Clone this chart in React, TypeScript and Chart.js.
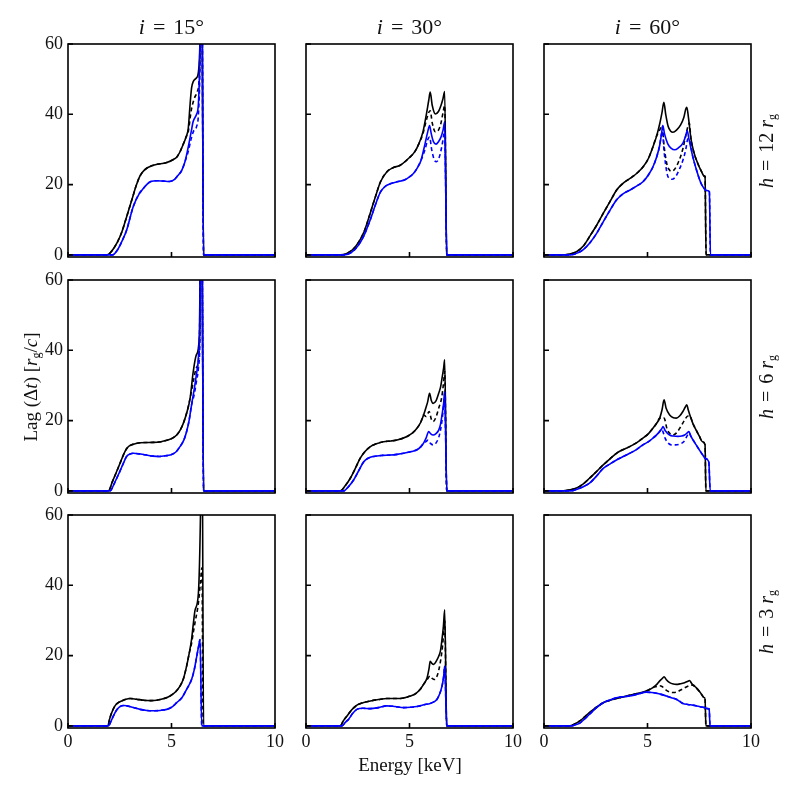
import React, { useEffect, useRef } from "react";
import { Chart, registerables } from "chart.js";

Chart.register(...registerables);

type Pt = [number, number];

// ---- axis ticks / labels ----
const xTicks = [0, 5, 10];
const yTicks = [0, 20, 40, 60];
const inclinations = ["15", "30", "60"];
const heights = ["12", "6", "3"];

// ---- i = 15°, h = 12 rg ----
const i15h12Rise: Pt[] = [[0,0],[1.9,0],[2.1,1],[2.4,3.8],[2.6,6.5],[2.83,10.8],[3.1,16],[3.3,19.8],[3.48,22.5],[3.7,24.2],[4.12,25.5],[4.77,26.3],[5.05,27],[5.25,27.8],[5.4,29.2],[5.57,31.5],[5.7,33.5]];
const i15h12BlackSolid: Pt[] = [...i15h12Rise,[5.81,36],[5.9,43],[5.97,47.5],[6.05,49.3],[6.18,50.2],[6.3,52],[6.38,62],[6.45,95],[6.55,0],[10,0]];
const i15h12BlackDashed: Pt[] = [...i15h12Rise,[5.81,35],[5.95,41],[6.1,44.5],[6.25,46.5],[6.35,52],[6.45,95],[6.55,0],[10,0]];
const i15h12BlueRise: Pt[] = [[0,0],[2.15,0],[2.4,1.5],[2.6,3.8],[2.83,7],[3.15,13.7],[3.45,17.5],[3.6,18.6],[3.8,20],[4.0,20.9],[4.3,21.1],[4.6,21],[4.9,20.9],[5.15,21.5],[5.3,22.5],[5.49,24],[5.65,26.5]];
const i15h12BlueSolid: Pt[] = [...i15h12BlueRise,[5.81,30.7],[5.95,35],[6.05,38],[6.21,40],[6.3,43],[6.38,60],[6.45,95],[6.55,0],[10,0]];
const i15h12BlueDashed: Pt[] = [...i15h12BlueRise,[5.81,29.5],[5.95,33],[6.05,35],[6.21,36.5],[6.3,40],[6.38,55],[6.45,95],[6.55,0],[10,0]];

// ---- i = 30°, h = 12 rg ----
const i30h12Rise: Pt[] = [[0,0],[1.65,0],[2.0,0.5],[2.4,2.4],[2.8,6.5],[3.1,11.8],[3.35,16.5],[3.6,20.8],[3.9,23.6],[4.2,24.8],[4.55,25.5],[5.0,27.7],[5.25,29.3],[5.45,31.6]];
const i30h12BlackSolid: Pt[] = [...i30h12Rise,[5.65,35],[5.8,39.5],[5.93,44],[6.0,46.3],[6.1,42.5],[6.25,40.1],[6.4,40.8],[6.52,42.5],[6.62,44.5],[6.7,46.5],[6.8,0],[10,0]];
const i30h12BlackDashed: Pt[] = [...i30h12Rise,[5.65,34.5],[5.8,38],[5.93,40.5],[6.0,41],[6.1,37.5],[6.25,35],[6.4,35.5],[6.52,37.5],[6.62,40.5],[6.7,42.5],[6.8,0],[10,0]];
const i30h12BlueRise: Pt[] = [[0,0],[1.85,0],[2.2,0.7],[2.5,2.5],[2.8,5.5],[3.1,9.9],[3.35,14.2],[3.6,17.9],[3.85,19.6],[4.1,20.3],[4.4,20.8],[4.75,21.3],[5.0,22.2],[5.2,23.2],[5.4,25],[5.55,26.8]];
const i30h12BlueSolid: Pt[] = [...i30h12BlueRise,[5.75,31.6],[5.88,35],[5.97,36.8],[6.05,34.5],[6.15,32.3],[6.28,31.5],[6.4,32.2],[6.52,33.5],[6.62,35.5],[6.7,37.8],[6.8,0],[10,0]];
const i30h12BlueDashed: Pt[] = [...i30h12BlueRise,[5.75,30],[5.88,32.8],[5.97,33.5],[6.07,30],[6.2,27],[6.3,26.5],[6.42,27.5],[6.55,30.5],[6.65,34],[6.7,36],[6.8,0],[10,0]];

// ---- i = 60°, h = 12 rg ----
const i60h12Rise: Pt[] = [[0,0],[0.9,0],[1.2,0.2],[1.57,0.9],[1.9,2.5],[2.2,5.2],[2.55,8.5],[2.86,11.8],[3.2,15.3],[3.5,18.4],[3.8,20.3],[4.14,21.7],[4.5,23.3],[4.78,25],[5.05,27.5],[5.26,30.7],[5.45,34]];
const i60h12BlackSolid: Pt[] = [...i60h12Rise,[5.59,37.3],[5.7,40.5],[5.79,43.4],[5.88,40],[6.0,36.5],[6.12,35.2],[6.23,34.9],[6.4,35.5],[6.6,37],[6.75,39],[6.85,41.5],[6.9,42],[6.97,39.5],[7.1,33],[7.25,29],[7.43,26],[7.6,23.8],[7.75,22.4],[7.78,22.3],[7.83,0],[10,0]];
const i60h12BlackDashed: Pt[] = [...i60h12Rise,[5.55,35],[5.65,36.3],[5.71,36.8],[5.8,31],[5.95,25.5],[6.07,24.1],[6.15,23.8],[6.3,24.3],[6.5,26.5],[6.71,30.2],[6.85,34],[6.95,36.5],[7.02,37.5],[7.1,33],[7.25,29],[7.43,26],[7.6,23.8],[7.75,22.4],[7.78,22.3],[7.83,0],[10,0]];
const i60h12BlueRise: Pt[] = [[0,0],[1.3,0],[1.6,0.5],[1.9,1.5],[2.2,3.3],[2.55,6.2],[2.86,9.4],[3.2,12.8],[3.5,15.6],[3.8,17.3],[4.14,18.4],[4.45,19.5],[4.78,20.8],[5.05,22.8],[5.26,25],[5.45,28],[5.59,31.2]];
const i60h12BlueSolid: Pt[] = [...i60h12BlueRise,[5.68,34.5],[5.74,36.8],[5.82,34.5],[5.98,31.6],[6.15,30.3],[6.31,29.9],[6.5,30.5],[6.71,31.8],[6.85,34],[6.92,35.4],[7.0,33],[7.19,27.9],[7.4,23.5],[7.59,20.3],[7.75,18.8],[7.85,18.3],[7.99,18],[8.04,0],[10,0]];
const i60h12BlueDashed: Pt[] = [...i60h12BlueRise,[5.66,34],[5.72,35.2],[5.8,29.5],[5.95,23],[6.07,21.7],[6.18,21.5],[6.35,22.2],[6.55,24.5],[6.71,26.9],[6.85,30],[6.95,33],[7.0,33],[7.19,27.9],[7.4,23.5],[7.59,20.3],[7.75,18.8],[7.85,18.3],[7.99,18],[8.04,0],[10,0]];

// ---- i = 15°, h = 6 rg ----
const i15h6Rise: Pt[] = [[0,0],[1.95,0],[2.15,2.7],[2.35,5.5],[2.55,8.4],[2.75,11.2],[2.9,12.5],[3.08,13.1],[3.48,13.7],[4.12,13.8],[4.5,14],[4.77,14.4],[5.05,15],[5.25,15.9],[5.42,17.3],[5.57,19.2],[5.75,22.5],[5.9,26.4]];
const i15h6BlackSolid: Pt[] = [...i15h6Rise,[6.05,33.9],[6.2,38.7],[6.34,43.4],[6.45,95],[6.55,0],[10,0]];
const i15h6BlackDashed: Pt[] = [...i15h6Rise,[6.05,31],[6.2,35],[6.34,40],[6.45,95],[6.55,0],[10,0]];
const i15h6BlueRise: Pt[] = [[0,0],[2.03,0],[2.25,2.3],[2.5,5.5],[2.7,8.2],[2.83,9.8],[3.0,10.5],[3.16,10.7],[3.5,10.5],[3.8,10.2],[4.1,9.9],[4.44,9.8],[4.7,10],[4.93,10.2],[5.2,11],[5.41,12.6],[5.6,14.5],[5.73,16.9],[5.85,20],[5.97,24.5]];
const i15h6BlueSolid: Pt[] = [...i15h6BlueRise,[6.1,29],[6.2,33],[6.3,38],[6.38,50],[6.45,95],[6.55,0],[10,0]];
const i15h6BlueDashed: Pt[] = [...i15h6BlueRise,[6.1,27.5],[6.2,31],[6.3,35],[6.38,45],[6.45,95],[6.55,0],[10,0]];

// ---- i = 30°, h = 6 rg ----
const i30h6Rise: Pt[] = [[0,0],[1.66,0],[1.9,1.5],[2.14,3.6],[2.4,6.6],[2.62,9.3],[2.85,11.2],[3.11,12.6],[3.4,13.4],[3.75,14],[4.1,14.2],[4.4,14.5],[4.88,15.5],[5.15,16.5],[5.36,17.8],[5.55,19.6],[5.68,21.6]];
const i30h6BlackSolid: Pt[] = [...i30h6Rise,[5.8,23.8],[5.88,25.4],[5.97,27.8],[6.05,25.8],[6.14,24.9],[6.28,25.6],[6.41,27.8],[6.5,29.5],[6.57,32],[6.65,35],[6.7,37.3],[6.8,0],[10,0]];
const i30h6BlackDashed: Pt[] = [...i30h6Rise,[5.8,21.2],[5.88,22],[5.95,22.6],[6.05,20.5],[6.14,19.7],[6.28,21],[6.41,23.5],[6.55,26.4],[6.65,31],[6.7,34],[6.8,0],[10,0]];
const i30h6BlueRise: Pt[] = [[0,0],[1.82,0],[2.05,1.2],[2.3,3.1],[2.55,5.8],[2.79,8.3],[3.0,9.3],[3.27,9.8],[3.7,10.1],[4.07,10.2],[4.4,10.4],[4.72,10.7],[5.1,11.2],[5.36,11.7],[5.55,12.6],[5.68,13.6]];
const i30h6BlueSolid: Pt[] = [...i30h6BlueRise,[5.8,15],[5.93,16.9],[6.03,16.2],[6.14,15.9],[6.28,16.3],[6.41,17.3],[6.5,19],[6.57,21.6],[6.65,25],[6.7,28.2],[6.8,0],[10,0]];
const i30h6BlueDashed: Pt[] = [...i30h6BlueRise,[5.8,14],[5.9,14.5],[6.0,13.6],[6.14,13.1],[6.3,13.8],[6.45,16],[6.57,20],[6.65,24.5],[6.7,28],[6.8,0],[10,0]];

// ---- i = 60°, h = 6 rg ----
const i60h6Rise: Pt[] = [[0,0],[0.93,0],[1.25,0.3],[1.57,0.8],[1.9,2],[2.2,3.6],[2.55,5.6],[2.86,7.4],[3.2,9.2],[3.5,10.7],[3.8,11.7],[4.14,12.6],[4.5,13.8],[4.78,15],[5.05,16.3],[5.26,17.8],[5.45,19.3],[5.59,20.7]];
const i60h6Tail: Pt[] = [[7.19,19.2],[7.35,17.3],[7.51,15.5],[7.65,14],[7.78,13.1],[7.82,0],[10,0]];
const i60h6BlackSolid: Pt[] = [...i60h6Rise,[5.7,23],[5.8,25.9],[5.9,23.5],[6.07,21.6],[6.25,20.8],[6.39,20.7],[6.55,21.3],[6.71,22.6],[6.82,23.8],[6.9,24.5],[6.97,23],...i60h6Tail];
const i60h6BlackDashed: Pt[] = [...i60h6Rise,[5.7,20.5],[5.8,20.7],[5.95,17.5],[6.1,16.2],[6.23,15.9],[6.4,16.5],[6.6,18.2],[6.8,20.2],[6.95,21.3],[7.05,21.3],...i60h6Tail];
const i60h6BlueRise: Pt[] = [[0,0],[1.3,0],[1.6,0.5],[1.9,1.2],[2.2,2.2],[2.55,4.3],[2.86,6.4],[3.2,7.7],[3.5,8.8],[3.8,9.7],[4.14,10.7],[4.5,11.9],[4.78,13.1],[5.05,14],[5.26,15],[5.45,16],[5.59,16.9],[5.68,17.6]];
const i60h6BlueTail: Pt[] = [[7.1,15.5],[7.35,13.1],[7.5,11.7],[7.67,10.2],[7.8,9.2],[7.96,8.3],[8.03,0],[10,0]];
const i60h6BlueSolid: Pt[] = [...i60h6BlueRise,[5.75,18.3],[5.85,17.2],[6.07,15.9],[6.25,15.6],[6.47,15.5],[6.65,15.6],[6.79,15.9],[6.92,16.5],[7.0,16.9],...i60h6BlueTail];
const i60h6BlueDashed: Pt[] = [...i60h6BlueRise,[5.75,16.8],[5.85,15],[6.0,13.6],[6.15,13.1],[6.35,13.1],[6.55,13.3],[6.75,14],[6.9,15.5],[7.0,16.5],...i60h6BlueTail];

// ---- i = 15°, h = 3 rg ----
const i15h3Rise: Pt[] = [[0,0],[1.92,0],[2.03,2.4],[2.15,4.3],[2.27,5.7],[2.43,6.6],[2.59,7.1],[2.8,7.6],[3.0,7.8],[3.3,7.6],[3.64,7.3],[4.0,7.2],[4.28,7.3],[4.6,7.7],[4.93,8.5],[5.2,9.7],[5.41,11.3],[5.58,13.5],[5.73,17],[5.85,20.5]];
const i15h3BlackSolid: Pt[] = [...i15h3Rise,[5.97,24.6],[6.05,28.8],[6.14,33],[6.3,37.8],[6.4,60],[6.47,95],[6.55,0],[10,0]];
const i15h3BlackDashed: Pt[] = [...i15h3Rise,[5.97,23.5],[6.05,26.5],[6.14,29.5],[6.3,35],[6.4,41],[6.47,45],[6.53,0],[10,0]];
const i15h3BlueSolid: Pt[] = [[0,0],[1.95,0],[2.07,1.2],[2.19,2.8],[2.35,4.5],[2.51,5.5],[2.7,5.8],[2.83,5.7],[3.1,5.3],[3.48,4.7],[3.8,4.4],[4.12,4.3],[4.45,4.4],[4.77,4.7],[5.05,5.5],[5.25,6.6],[5.5,8],[5.73,10.4],[5.97,13.2],[6.1,16],[6.22,19.8],[6.32,23],[6.38,24.6],[6.46,0],[10,0]];
const i15h3BlueDashed: Pt[] = [[0,0],[1.95,0],[2.07,1.2],[2.19,2.8],[2.35,4.5],[2.51,5.5],[2.7,5.8],[2.83,5.7],[3.1,5.3],[3.48,4.7],[3.8,4.4],[4.12,4.3],[4.45,4.4],[4.77,4.7],[5.05,5.5],[5.25,6.6],[5.5,8],[5.73,10.4],[5.97,13.2],[6.1,16],[6.22,19.8],[6.32,23],[6.38,24.6],[6.46,0],[10,0]];

// ---- i = 30°, h = 3 rg ----
const i30h3Rise: Pt[] = [[0,0],[1.66,0],[1.8,1.4],[1.98,2.8],[2.2,4.5],[2.46,5.9],[2.75,6.6],[3.11,7.1],[3.5,7.5],[3.91,7.8],[4.56,7.8],[5.04,8.5],[5.3,9.2],[5.52,10.4],[5.7,12]];
const i30h3BlackSolid: Pt[] = [...i30h3Rise,[5.85,13.7],[5.95,16.5],[6.0,18.4],[6.08,17.8],[6.17,17.5],[6.3,18.5],[6.41,19.8],[6.5,21.5],[6.57,24.6],[6.64,28.5],[6.7,33],[6.8,0],[10,0]];
const i30h3BlackDashed: Pt[] = [...i30h3Rise,[5.85,13.2],[6.0,14.2],[6.1,13.5],[6.2,13.2],[6.35,14.5],[6.5,18.5],[6.6,23],[6.67,28],[6.7,30],[6.8,0],[10,0]];
const i30h3BlueSolid: Pt[] = [[0,0],[1.74,0],[1.9,1],[2.06,1.9],[2.25,3.5],[2.46,4.7],[2.75,5],[3.11,4.9],[3.5,5.2],[3.91,5.7],[4.3,5.5],[4.72,5.2],[5.05,5.3],[5.36,5.5],[5.7,6],[6.0,6.4],[6.2,6.9],[6.33,7.6],[6.45,9],[6.57,11.3],[6.65,14],[6.7,17],[6.8,0],[10,0]];
const i30h3BlueDashed: Pt[] = [[0,0],[1.74,0],[1.9,1],[2.06,1.9],[2.25,3.5],[2.46,4.7],[2.75,5],[3.11,4.9],[3.5,5.2],[3.91,5.7],[4.3,5.5],[4.72,5.2],[5.05,5.3],[5.36,5.5],[5.7,6],[6.0,6.4],[6.2,6.9],[6.33,7.6],[6.45,9],[6.57,11.3],[6.65,14],[6.7,17],[6.8,0],[10,0]];

// ---- i = 60°, h = 3 rg ----
const i60h3Rise: Pt[] = [[0,0],[1.25,0],[1.5,0.6],[1.73,1.4],[1.95,2.5],[2.2,3.8],[2.5,5.2],[2.86,6.6],[3.2,7.3],[3.5,7.8],[3.8,8.2],[4.14,8.7],[4.5,9.2],[4.78,9.6],[5.05,10.2],[5.26,10.9]];
const i60h3Tail: Pt[] = [[7.2,11.6],[7.35,10.9],[7.55,9.5],[7.75,8],[7.78,8],[7.82,0],[10,0]];
const i60h3BlackSolid: Pt[] = [...i60h3Rise,[5.45,11.8],[5.59,12.8],[5.7,13.4],[5.8,14],[5.9,13.2],[6.07,12.3],[6.25,11.9],[6.39,11.8],[6.6,12],[6.79,12.3],[6.95,12.7],[7.03,12.9],[7.12,12.2],...i60h3Tail];
const i60h3BlackDashed: Pt[] = [...i60h3Rise,[5.45,11.2],[5.59,11.4],[5.7,11.2],[5.9,10.2],[6.1,9.6],[6.23,9.5],[6.4,9.6],[6.6,10.2],[6.85,11],[7.0,11.4],[7.12,11.6],...i60h3Tail];
const i60h3BlueSolid: Pt[] = [[0,0],[1.33,0],[1.5,0.3],[1.73,0.8],[1.95,1.9],[2.2,3.3],[2.5,5],[2.86,6.6],[3.2,7.4],[3.5,8],[3.8,8.3],[4.14,8.5],[4.5,9],[4.94,9.6],[5.2,9.5],[5.43,9.3],[5.7,8.9],[5.91,8.5],[6.15,8],[6.39,7.6],[6.55,7],[6.71,6.4],[6.95,6.1],[7.19,5.9],[7.5,5.5],[7.75,5.2],[7.91,4.9],[7.98,4.8],[8.02,0],[10,0]];
const i60h3BlueDashed: Pt[] = [[0,0],[1.33,0],[1.5,0.3],[1.73,0.8],[1.95,1.9],[2.2,3.3],[2.5,5],[2.86,6.6],[3.2,7.4],[3.5,8],[3.8,8.3],[4.14,8.5],[4.5,9],[4.94,9.6],[5.2,9.5],[5.43,9.3],[5.7,8.9],[5.91,8.5],[6.15,8],[6.39,7.6],[6.55,7],[6.71,6.4],[6.95,6.1],[7.19,5.9],[7.5,5.5],[7.75,5.2],[7.91,4.9],[7.98,4.8],[8.02,0],[10,0]];

type PanelSeries = { blackSolid: Pt[]; blackDashed: Pt[]; blueSolid: Pt[]; blueDashed: Pt[] };

const grid: PanelSeries[][] = [
  [
    { blackSolid: i15h12BlackSolid, blackDashed: i15h12BlackDashed, blueSolid: i15h12BlueSolid, blueDashed: i15h12BlueDashed },
    { blackSolid: i30h12BlackSolid, blackDashed: i30h12BlackDashed, blueSolid: i30h12BlueSolid, blueDashed: i30h12BlueDashed },
    { blackSolid: i60h12BlackSolid, blackDashed: i60h12BlackDashed, blueSolid: i60h12BlueSolid, blueDashed: i60h12BlueDashed },
  ],
  [
    { blackSolid: i15h6BlackSolid, blackDashed: i15h6BlackDashed, blueSolid: i15h6BlueSolid, blueDashed: i15h6BlueDashed },
    { blackSolid: i30h6BlackSolid, blackDashed: i30h6BlackDashed, blueSolid: i30h6BlueSolid, blueDashed: i30h6BlueDashed },
    { blackSolid: i60h6BlackSolid, blackDashed: i60h6BlackDashed, blueSolid: i60h6BlueSolid, blueDashed: i60h6BlueDashed },
  ],
  [
    { blackSolid: i15h3BlackSolid, blackDashed: i15h3BlackDashed, blueSolid: i15h3BlueSolid, blueDashed: i15h3BlueDashed },
    { blackSolid: i30h3BlackSolid, blackDashed: i30h3BlackDashed, blueSolid: i30h3BlueSolid, blueDashed: i30h3BlueDashed },
    { blackSolid: i60h3BlackSolid, blackDashed: i60h3BlackDashed, blueSolid: i60h3BlueSolid, blueDashed: i60h3BlueDashed },
  ],
];

// ---- layout ----
const COL_LEFT = [68, 306, 544];
const ROW_TOP = [44, 280, 515];
const PW = 207;
const PH = 213;
const PAD_L = 60;
const PAD_T = 12;
const PAD_R = 14;
const PAD_B = 30;
const CW = PAD_L + PW + PAD_R;
const CH = PAD_T + PH + PAD_B;
const SERIF = "'Liberation Serif', 'DejaVu Serif', serif";
const BLUE = "#0000ff";

const framePlugin = {
  id: "frameTicks",
  afterDatasetsDraw(chart: any) {
    const { ctx, chartArea: a, scales } = chart;
    ctx.save();
    ctx.strokeStyle = "#000";
    ctx.lineWidth = 1.6;
    ctx.strokeRect(a.left, a.top, a.right - a.left, a.bottom - a.top);
    ctx.beginPath();
    for (const v of xTicks) {
      const px = scales.x.getPixelForValue(v);
      ctx.moveTo(px, a.bottom);
      ctx.lineTo(px, a.bottom - 5);
    }
    for (const v of yTicks) {
      const py = scales.y.getPixelForValue(v);
      ctx.moveTo(a.left, py);
      ctx.lineTo(a.left + 5, py);
    }
    ctx.stroke();
    ctx.restore();
  },
};

function toXY(pts: Pt[]) {
  return pts.map(([x, y]) => ({ x, y }));
}

function Panel({ s, left, top, showX, showY }: { s: PanelSeries; left: number; top: number; showX: boolean; showY: boolean }) {
  const ref = useRef<HTMLCanvasElement>(null);
  useEffect(() => {
    const base = { pointRadius: 0, borderWidth: 1.6, cubicInterpolationMode: "monotone" as const, fill: false };
    const chart = new Chart(ref.current!, {
      type: "line",
      data: {
        datasets: [
          { ...base, data: toXY(s.blueDashed), borderColor: BLUE, borderDash: [4, 3] },
          { ...base, data: toXY(s.blueSolid), borderColor: BLUE },
          { ...base, data: toXY(s.blackDashed), borderColor: "#000", borderDash: [4, 3] },
          { ...base, data: toXY(s.blackSolid), borderColor: "#000" },
        ],
      },
      options: {
        responsive: false,
        animation: false,
        events: [],
        layout: { padding: { left: 0, top: PAD_T, right: PAD_R, bottom: 0 } },
        plugins: { legend: { display: false }, tooltip: { enabled: false }, title: { display: false } },
        scales: {
          x: {
            type: "linear",
            position: "bottom",
            min: 0,
            max: 10,
            grid: { display: false, drawTicks: false },
            border: { display: false },
            ticks: { display: showX, color: "#111", font: { family: SERIF, size: 18 }, padding: 3, maxRotation: 0, minRotation: 0, autoSkip: false },
            afterBuildTicks: (scale: any) => { scale.ticks = xTicks.map((value) => ({ value })); },
            afterFit: (scale: any) => {
              scale.height = PAD_B;
              scale.paddingLeft = 0;
              scale.paddingRight = 0;
              scale.paddingTop = 0;
              scale.paddingBottom = 0;
            },
          },
          y: {
            type: "linear",
            position: "left",
            min: -0.6,
            max: 60,
            grid: { display: false, drawTicks: false },
            border: { display: false },
            ticks: { display: showY, color: "#111", font: { family: SERIF, size: 18 }, padding: 5 },
            afterBuildTicks: (scale: any) => { scale.ticks = yTicks.map((value) => ({ value })); },
            afterFit: (scale: any) => {
              scale.width = PAD_L;
              scale.paddingLeft = 0;
              scale.paddingRight = 0;
              scale.paddingTop = 0;
              scale.paddingBottom = 0;
            },
          },
        },
      },
      plugins: [framePlugin],
    });
    return () => chart.destroy();
  }, [s, showX, showY]);
  return (
    <canvas
      ref={ref}
      width={CW}
      height={CH}
      style={{ position: "absolute", left: left - PAD_L, top: top - PAD_T, width: CW, height: CH }}
    />
  );
}

const textBase: React.CSSProperties = { position: "absolute", fontFamily: SERIF, color: "#111", whiteSpace: "nowrap", textAlign: "center" };
const subStyle: React.CSSProperties = { fontSize: 12, verticalAlign: "-3px", lineHeight: 0 };

export default function App() {
  return (
    <div style={{ position: "absolute", left: 0, top: 0, width: 797, height: 797, background: "#fff", overflow: "hidden" }}>
      {grid.map((row, r) =>
        row.map((s, c) => (
          <Panel key={`${r}-${c}`} s={s} left={COL_LEFT[c]} top={ROW_TOP[r]} showX={r === 2} showY={c === 0} />
        ))
      )}
      {inclinations.map((inc, c) => (
        <div key={`t${c}`} style={{ ...textBase, left: COL_LEFT[c], top: 14, width: PW, fontSize: 22, lineHeight: "26px" }}>
          <i>i</i>
          <span style={{ margin: "0 8px" }}>=</span>
          {inc}°
        </div>
      ))}
      {heights.map((h, r) => (
        <div
          key={`h${r}`}
          style={{
            ...textBase,
            left: 765 - PH / 2,
            top: ROW_TOP[r] + PH / 2 - 13,
            width: PH,
            height: 26,
            fontSize: 20,
            lineHeight: "26px",
            transform: "rotate(-90deg)",
            transformOrigin: "50% 50%",
          }}
        >
          <i>h</i>
          <span style={{ margin: "0 7px" }}>=</span>
          {h}&nbsp;<i>r</i>
          <span style={subStyle}>g</span>
        </div>
      ))}
      <div
        style={{
          ...textBase,
          left: 31 - 150,
          top: 387 - 13,
          width: 300,
          height: 26,
          fontSize: 19,
          lineHeight: "26px",
          transform: "rotate(-90deg)",
          transformOrigin: "50% 50%",
        }}
      >
        Lag (Δ<i>t</i>) [<i>r</i>
        <span style={subStyle}>g</span>/<i>c</i>]
      </div>
      <div style={{ ...textBase, left: 410 - 100, top: 752, width: 200, fontSize: 19, lineHeight: "26px" }}>
        Energy [keV]
      </div>
    </div>
  );
}
